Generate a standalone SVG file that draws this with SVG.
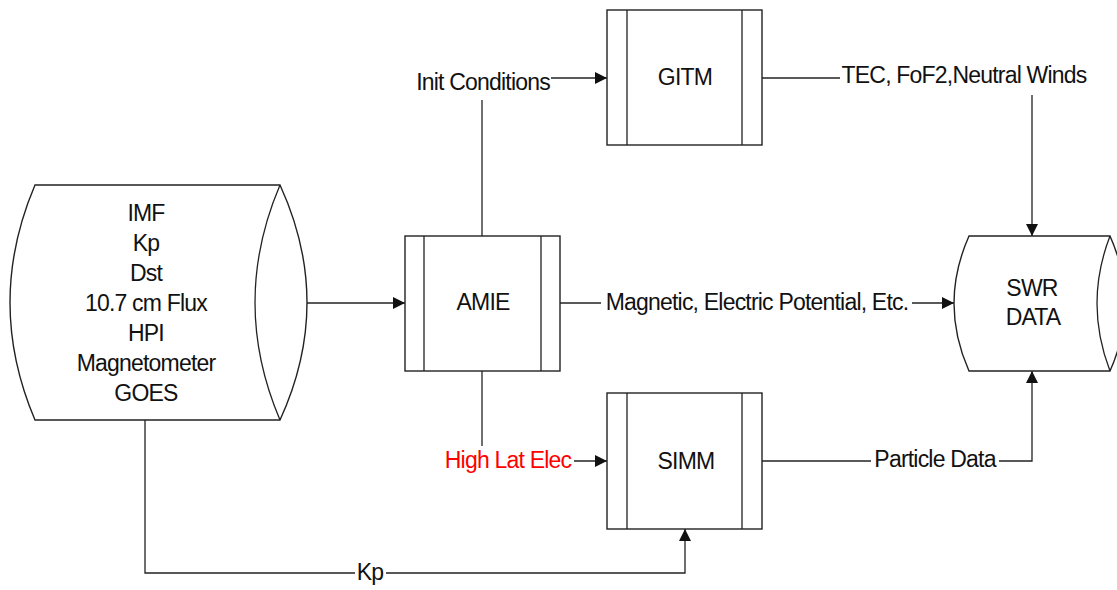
<svg xmlns="http://www.w3.org/2000/svg" width="1117" height="590" viewBox="0 0 1117 590">
<style>
.shape{fill:#fff;stroke:#222;stroke-width:1.4}
.ln{fill:none;stroke:#222;stroke-width:1.3}
.t{font-family:"Liberation Sans",Arial,sans-serif;font-size:23px;letter-spacing:-0.8px;fill:#111;text-anchor:middle}
.red{fill:#ff0000}
</style>
<defs>
<marker id="arr" markerUnits="userSpaceOnUse" markerWidth="12" markerHeight="12" refX="12" refY="6" orient="auto">
<path d="M0,0 L12,6 L0,12 z" fill="#111"/>
</marker>
</defs>
<rect width="1117" height="590" fill="#fff"/>
<g id="connectors">
<path class="ln" d="M307,303 H405" marker-end="url(#arr)"/>
<path class="ln" d="M482,236 V100"/>
<path class="ln" d="M551,78 H607" marker-end="url(#arr)"/>
<text class="t" x="483" y="90">Init Conditions</text>
<path class="ln" d="M762,78 H840"/>
<path class="ln" d="M1032,95 V236" marker-end="url(#arr)"/>
<text class="t" x="964" y="83">TEC, FoF2,Neutral Winds</text>
<path class="ln" d="M560,303 H601"/>
<path class="ln" d="M912,303 H954" marker-end="url(#arr)"/>
<text class="t" x="757" y="310">Magnetic, Electric Potential, Etc.</text>
<path class="ln" d="M482,371 V446"/>
<path class="ln" d="M574,461 H607" marker-end="url(#arr)"/>
<text class="t red" x="508" y="468">High Lat Elec</text>
<path class="ln" d="M762,461 H871"/>
<path class="ln" d="M999,461 H1032 V371" marker-end="url(#arr)"/>
<text class="t" x="935" y="467">Particle Data</text>
<path class="ln" d="M145,420 V573 H355"/>
<path class="ln" d="M386,573 H685 V529" marker-end="url(#arr)"/>
<text class="t" x="370" y="580">Kp</text>
</g>
<g id="inputs">
<path class="shape" d="M35,185 H280 Q334,302.5 280,420 H35 Q-15,302.5 35,185 z"/>
<path class="ln" d="M280,185 Q230,302.5 280,420"/>
<text class="t" x="146" y="221">IMF</text>
<text class="t" x="146" y="251">Kp</text>
<text class="t" x="146" y="281">Dst</text>
<text class="t" x="146" y="311">10.7 cm Flux</text>
<text class="t" x="146" y="341">HPI</text>
<text class="t" x="146" y="371">Magnetometer</text>
<text class="t" x="146" y="401">GOES</text>
</g>
<g id="amie">
<rect class="shape" x="405" y="236" width="155" height="135"/>
<path class="ln" d="M424,236 V371 M541,236 V371"/>
<text class="t" x="483" y="310">AMIE</text>
</g>
<g id="gitm">
<rect class="shape" x="607" y="10" width="155" height="135"/>
<path class="ln" d="M627,10 V145 M742,10 V145"/>
<text class="t" x="685" y="85">GITM</text>
</g>
<g id="simm">
<rect class="shape" x="607" y="393" width="155" height="136"/>
<path class="ln" d="M627,393 V529 M742,393 V529"/>
<text class="t" x="686" y="469">SIMM</text>
</g>
<g id="swr">
<path class="shape" d="M969,236 H1110 Q1140,303.5 1110,371 H969 Q939,303.5 969,236 z"/>
<path class="ln" d="M1110,236 Q1084,303.5 1110,371"/>
<text class="t" x="1032" y="296">SWR</text>
<text class="t" x="1033" y="325">DATA</text>
</g>
</svg>
